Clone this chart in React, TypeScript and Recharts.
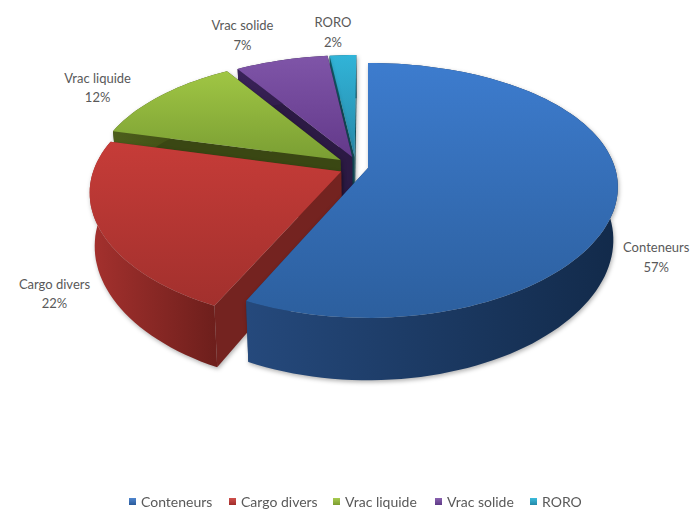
import React from 'react';
import { PieChart, Pie, Legend } from 'recharts';

const categories = ['Conteneurs', 'Cargo divers', 'Vrac liquide', 'Vrac solide', 'RORO'];
const values = [57, 22, 12, 7, 2];

const styles: Record<string, any> = {
  Conteneurs: { top: ['#3d7cce', '#2c5f9e'], rim: ['#25497c', '#122a4a'], face: '#1c3a63', off: [0, 0], lab: [39, 56], legend: ['#4f86cf', '#2a5a9a'] },
  'Cargo divers': { top: ['#c63c38', '#a2302d'], rim: ['#a5312e', '#6e1f1c'], face: '#742320', off: [-0.108, 0.028], lab: [-45, 60], legend: ['#d0504c', '#a02c2a'] },
  'Vrac liquide': { top: ['#a0c644', '#7a9e33'], rim: ['#4d5e1c', '#38450f'], face: '#3a4713', off: [-0.112, -0.065], lab: [-63, -13], legend: ['#a8cc50', '#7c9c30'] },
  'Vrac solide': { top: ['#7f55a8', '#63398a'], rim: ['#3a2359', '#2a1840'], face: '#2c1a44', off: [-0.065, -0.09], lab: [-39, -30], legend: ['#8a62b0', '#5e3a86'] },
  RORO: { top: ['#31b4d8', '#2788a8'], rim: ['#13606f', '#0e4a57'], face: '#124f5c', off: [-0.055, -0.09], lab: [-10, -28], legend: ['#3cbcdc', '#2488a8'] },
};

const tableRows = categories.map((name, i) => ({ name, value: values[i] })).reverse();

const PERSP = 0.176;
const SQUASH = 0.5;
const DEPTH = 0.208;

const rad = (a: number) => (a * Math.PI) / 180;

function project(u: number, v: number, cx: number, cy: number, R: number, lower: boolean) {
  const s = 1 / (1 - PERSP * v);
  const B = R * SQUASH;
  return {
    x: cx + R * u * Math.pow(s, 0.85) * (lower ? 0.982 : 1),
    y: cy + (B * v + (lower ? R * DEPTH : 0)) * s,
  };
}

const path = (pts: { x: number; y: number }[]) =>
  pts.map((p, i) => `${i ? 'L' : 'M'}${p.x.toFixed(1)},${p.y.toFixed(1)}`).join(' ') + ' Z';

function Slab(props: any) {
  const { cx, cy, outerRadius: R, startAngle, endAngle, name } = props;
  const key = name ?? props.payload?.name;
  const st = styles[key];
  const [du, dv] = st.off;
  const steps = Math.max(4, Math.ceil(Math.abs(endAngle - startAngle) / 2));
  const edge = (lower: boolean) => {
    const out = [];
    for (let i = 0; i <= steps; i++) {
      const a = rad(startAngle + ((endAngle - startAngle) * i) / steps);
      out.push(project(Math.cos(a) + du, -Math.sin(a) + dv, cx, cy, R, lower));
    }
    return out;
  };
  const up = edge(false);
  const low = edge(true);
  const apexUp = project(du, dv, cx, cy, R, false);
  const apexLow = project(du, dv, cx, cy, R, true);
  const id = key.replace(/\s/g, '');
  const xs = up.map((p) => p.x);
  const ys = up.concat(apexUp).map((p) => p.y);
  return (
    <g style={{ filter: 'drop-shadow(1px 2px 2px rgba(0,0,0,0.3))' }}>
      <defs>
        <linearGradient id={`t${id}`} gradientUnits="userSpaceOnUse" x1="0" x2="0" y1={Math.min(...ys)} y2={Math.max(...ys)}>
          <stop offset="0" stopColor={st.top[0]} />
          <stop offset="1" stopColor={st.top[1]} />
        </linearGradient>
        <linearGradient id={`r${id}`} gradientUnits="userSpaceOnUse" y1="0" y2="0" x1={Math.min(...xs)} x2={Math.max(...xs)}>
          <stop offset="0" stopColor={st.rim[0]} />
          <stop offset="1" stopColor={st.rim[1]} />
        </linearGradient>
      </defs>
      <path d={path([apexUp, up[0], low[0], apexLow])} fill={st.face} />
      <path d={path([apexUp, up[steps], low[steps], apexLow])} fill={st.face} />
      <path d={path([...up, ...[...low].reverse()])} fill={`url(#r${id})`} />
      <path d={path([apexUp, ...up])} fill={`url(#t${id})`} />
    </g>
  );
}

function SliceLabel(props: any) {
  const { cx, cy, outerRadius: R, midAngle, name, value } = props;
  const key = name ?? props.payload?.name;
  const st = styles[key];
  const a = rad(midAngle);
  const p = project(Math.cos(a) + st.off[0], -Math.sin(a) + st.off[1], cx, cy, R, false);
  const x = p.x + st.lab[0];
  const y = p.y + st.lab[1];
  return (
    <text x={x} y={y} textAnchor="middle" fontFamily="Lato" fontSize={13} fill="#595959">
      <tspan x={x}>{key}</tspan>
      <tspan x={x} dy={19.5}>{`${value}%`}</tspan>
    </text>
  );
}

const legendX = [129, 229, 333, 435, 530];

function LegendRow() {
  return (
    <div style={{ position: 'relative', width: 698, height: 15, fontFamily: 'Lato', fontSize: 14, color: '#595959', whiteSpace: 'nowrap', lineHeight: '15px' }}>
      {categories.map((c, i) => (
        <span key={c} style={{ position: 'absolute', left: legendX[i], top: 0, display: 'flex', alignItems: 'center' }}>
          <span style={{ width: 7, height: 7, marginRight: 5, display: 'inline-block', background: `linear-gradient(${styles[c].legend[0]}, ${styles[c].legend[1]})` }} />
          {c}
        </span>
      ))}
    </div>
  );
}

export default function App() {
  return (
    <div style={{ position: 'fixed', left: 0, top: 0, width: 698, height: 509, background: '#fff' }}>
      <PieChart width={698} height={509} margin={{ top: 0, right: 0, bottom: 0, left: 0 }}>
        <Pie
          data={tableRows}
          dataKey="value"
          nameKey="name"
          cx={368}
          cy={168}
          innerRadius={0}
          outerRadius={247}
          startAngle={90}
          endAngle={450}
          stroke="none"
          isAnimationActive={false}
          shape={Slab}
          label={SliceLabel}
          labelLine={false}
        />
        <Legend content={LegendRow} wrapperStyle={{ position: 'absolute', left: 0, top: 494, width: 698, height: 15 }} />
      </PieChart>
    </div>
  );
}
